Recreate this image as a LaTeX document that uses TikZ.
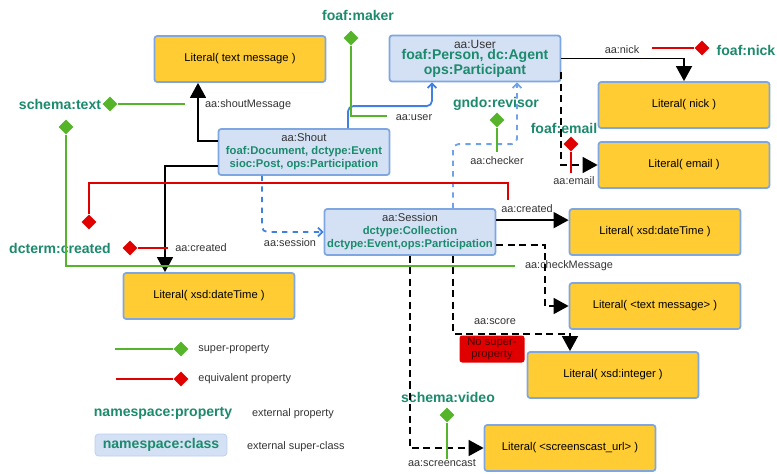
\documentclass[tikz,border=0pt]{standalone}
\usepackage{fontspec}
\setmainfont{Liberation Sans}
\usetikzlibrary{shapes.geometric,arrows.meta,calc,positioning}

\definecolor{litfill}{HTML}{FFCC33}
\definecolor{boxline}{HTML}{7EA6E0}
\definecolor{clsfill}{HTML}{D4E1F5}
\definecolor{nsgreen}{HTML}{1C8A6C}
\definecolor{supgreen}{HTML}{55B42A}
\definecolor{eqred}{HTML}{E00000}
\definecolor{linkblue}{HTML}{3F80E2}
\definecolor{lightlink}{HTML}{6FA2E8}
\definecolor{lbltext}{HTML}{333333}
\definecolor{darkred}{HTML}{4A0000}

\newcommand{\nsname}[1]{{\color{nsgreen}\bfseries #1}}

\tikzset{
  lit/.style={draw=boxline, fill=litfill, line width=1pt, rounded corners=1.5pt,
    minimum width=3.42cm, minimum height=0.92cm,
    font=\fontsize{6.4}{7.6}\selectfont},
  cls/.style={draw=boxline, fill=clsfill, line width=1pt, rounded corners=1.5pt,
    minimum width=3.42cm, minimum height=0.92cm, align=center, inner sep=1pt,
    text=lbltext, font=\fontsize{6.4}{7.4}\selectfont},
  ns/.style={text=nsgreen, font=\fontsize{8}{9}\selectfont\bfseries, inner sep=1pt},
  lbl/.style={text=lbltext, font=\fontsize{6.2}{7}\selectfont, inner sep=1pt},
  sup/.style={diamond, fill=supgreen, inner sep=0pt, minimum size=0.3cm},
  eqv/.style={diamond, fill=eqred, inner sep=0pt, minimum size=0.3cm},
  supline/.style={draw=supgreen, line width=1pt},
  eqvline/.style={draw=eqred, line width=1pt},
  rel/.style={line width=1.1pt, -{Triangle[length=8.5pt,width=9pt]}},
  drel/.style={rel, dash pattern=on 4pt off 2.5pt},
  urel/.style={draw=linkblue, line width=1pt, rounded corners=3pt,
    -{Straight Barb[length=2.5pt,width=5pt]}},
}

\begin{document}
\begin{tikzpicture}[x=0.02cm, y=-0.02cm]
  \useasboundingbox (0,0) rectangle (777,473);

  \node[lit] (txtmsg) at (240,59) {Literal( text message )};
  \node[cls] (user) at (475,58.5) {{\fontsize{6.8}{7.4}\selectfont aa:User}\\[-1pt]
    {\fontsize{8}{8.6}\selectfont\nsname{foaf:Person, dc:Agent}}\\
    {\fontsize{8}{8.6}\selectfont\nsname{ops:Participant}}};
  \node[lit] (nick) at (684,105) {Literal( nick )};
  \node[lit] (email) at (684,165) {Literal( email )};
  \node[cls] (shout) at (304,152) {aa:Shout\\
    \nsname{foaf:Document, dctype:Event}\\ \nsname{sioc:Post, ops:Participation}};
  \node[cls] (session) at (410,232) {aa:Session\\
    \nsname{dctype:Collection}\\ \nsname{dctype:Event,ops:Participation}};
  \node[lit] (date2) at (655,232) {Literal( xsd:dateTime )};
  \node[lit] (date1) at (209,296) {Literal( xsd:dateTime )};
  \node[lit] (textlit) at (655,306) {Literal( <text message> )};
  \node[lit] (integer) at (613,375) {Literal( xsd:integer )};
  \node[lit] (url) at (570,448) {Literal( <screenscast\_url> )};
  \node[fill=eqred, rounded corners=1.5pt, minimum width=1.3cm, minimum height=0.54cm,
    align=center, inner sep=1pt, text=darkred, font=\fontsize{6.4}{7}\selectfont]
    (nosuper) at (492,349) {No super-\\property};

  \node[lbl, anchor=west] (lshout) at (203,105) {aa:shoutMessage};
  \node[lbl] (luser) at (414,118) {aa:user};
  \node[lbl] (lcheck) at (497,161) {aa:checker};
  \node[lbl] (lnick) at (622,50) {aa:nick};
  \node[lbl] (lemail) at (574,181) {aa:email};
  \node[lbl] (lcre2) at (527,209) {aa:created};
  \node[lbl] (lcre1) at (201,248) {aa:created};
  \node[lbl] (lsess) at (290,243) {aa:session};
  \node[lbl, anchor=west] (lmsg) at (523,266) {aa:checkMessage};
  \node[lbl] (lscore) at (495,322) {aa:score};
  \node[lbl] (lcast) at (442,463) {aa:screencast};

  \node[ns] (nmaker) at (358,15) {foaf:maker};
  \node[ns] (ntext) at (60,104) {schema:text};
  \node[ns] (ncre) at (60,248) {dcterm:created};
  \node[ns] (nnick) at (746,50) {foaf:nick};
  \node[ns] (nemail) at (564,128) {foaf:email};
  \node[ns] (nrev) at (496,104) {gndo:revisor};
  \node[ns] (nvid) at (448,397) {schema:video};

  \draw[rel] ($(shout.north west)+(0,13)$) -| ($(txtmsg.south)+(-42,0)$);
  \draw[rel] ($(shout.south west)+(0,-10)$) -| ($(date1.north)+(-44,0)$);
  \draw[rel] (user.east) -| (nick.north);
  \draw[drel] ($(user.south east)+(0,-10)$) |- (email.west);
  \draw[rel] ($(session.north east)+(0,12)$) -- ($(date2.north west)+(0,12)$);
  \draw[drel] ($(session.south east)+(0,-11)$) -- ++(49,0) |- (textlit.west);
  \draw[drel] ($(session.south)+(43,0)$) -- ++(0,78) -| ($(integer.north)+(-43,0)$);
  \draw[drel] (session.south) |- (url.west);
  \draw[urel] ($(shout.north)+(44,0)$) -- ++(0,-22) -| ($(user.south)+(-43,0)$);
  \draw[urel, draw=lightlink, dashed] ($(session.north)+(43,0)$) -- ++(0,-64)
    -| ($(user.south)+(42,0)$);
  \draw[urel, dashed] ($(shout.south)+(-42,0)$) |- (session.west);

  \node[sup] (dmaker) at (351,38) {};
  \node[sup] (dtext) at (110,104) {};
  \node[sup] (dtext2) at (66,127) {};
  \node[eqv] (dcre1) at (130,248) {};
  \node[eqv] (dcre2) at (89,222) {};
  \node[eqv] (dnick) at (702,48) {};
  \node[eqv] (demail) at (571,144) {};
  \node[sup] (drev) at (497,120) {};
  \node[sup] (dvid) at (447,415) {};

  \draw[supline] (dmaker) -- ++(0,78) -- ++(36,0);
  \draw[supline] (dtext) -- ++(75,0);
  \draw[supline] (dtext2) -- ++(0,139) -- ++(449,0);
  \draw[eqvline] (dcre1) -- ++(38,0);
  \draw[eqvline] (dcre2) -- ++(0,-39) -| ($(lcre2.north)+(-19,-3)$);
  \draw[eqvline] (dnick) -- ++(-50,0);
  \draw[eqvline] (demail) -- ++(0,29);
  \draw[supline] (drev) -- ++(0,32);
  \draw[supline] (dvid) -- ++(0,44);

  \node[sup] (gsup) at (181,349) {};
  \node[eqv] (geqv) at (181,379) {};
  \draw[supline] (gsup) -- ++(-66,0);
  \draw[eqvline] (geqv) -- ++(-65,0);
  \node[lbl, right=0.15cm of gsup] (tsup) {super-property};
  \node[lbl, right=0.15cm of geqv] (teqv) {equivalent property};
  \node[ns] (gprop) at (163,413) {namespace:property};
  \node[lbl, anchor=west] (tprop) at (250,414) {external property};
  \node[ns, fill=clsfill, draw=clsfill!70!boxline, rounded corners=2pt,
    minimum width=2.64cm, minimum height=0.44cm] (gcls) at (161,445) {namespace:class};
  \node[lbl, anchor=west] (tcls) at (245,447) {external super-class};
\end{tikzpicture}
\end{document}
